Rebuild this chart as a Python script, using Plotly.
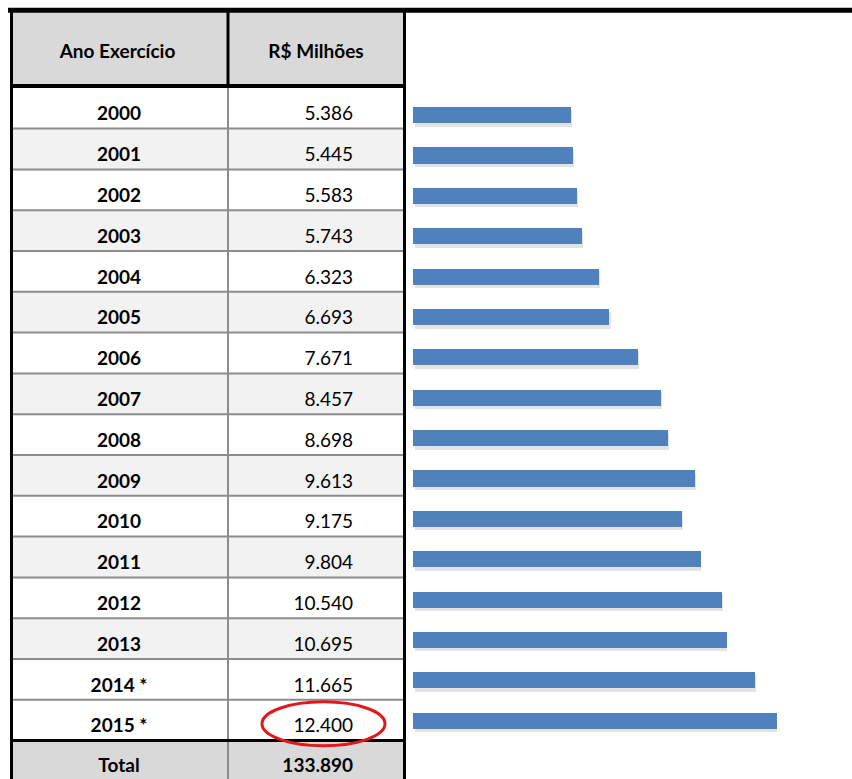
import plotly.graph_objects as go

# ---------------- data ----------------
years = ["2000", "2001", "2002", "2003", "2004", "2005", "2006", "2007",
         "2008", "2009", "2010", "2011", "2012", "2013", "2014 *", "2015 *"]
values = [5386, 5445, 5583, 5743, 6323, 6693, 7671, 8457,
          8698, 9613, 9175, 9804, 10540, 10695, 11665, 12400]
header_labels = ["Ano Exercício", "R$ Milhões"]
total_label = "Total"
total_value = 133890
highlight_year = "2015 *"

def fmt(v):
    return f"{v:,}".replace(",", ".")

# ---------------- layout constants (pixels) ----------------
W, H = 852, 779
TX0, TX1, TX2 = 12, 227, 405          # table column edges
HEAD_TOP, HEAD_BOT = 12, 86
ROW_TOP, ROW_H = 87.8, 40.8
TEXT_DY = 7.5                           # text sits a bit below row centre
NUM_RIGHT = 353
COL1_C = 119

BAR_X0 = 413
BAR_SCALE = 0.02935                     # px per unit
BAR_C0, BAR_STEP = 115.0, 40.37
xmax = (W - BAR_X0) / BAR_SCALE

n = len(years)

def py(p):  # pixel y -> paper
    return 1 - p / H

def px(p):
    return p / W

bar_top = BAR_C0 - BAR_STEP / 2
bar_bot = BAR_C0 + (n - 1) * BAR_STEP + BAR_STEP / 2

font = "Lato, 'Open Sans', sans-serif"
FS = 19

fig = go.Figure()

# soft shadow of bars
fig.add_trace(go.Bar(
    x=values, y=years, orientation="h", width=0.42,
    marker=dict(color="rgba(80,80,80,0.16)", line=dict(width=0)),
    xaxis="x", yaxis="y", hoverinfo="skip", showlegend=False))

# table text
row_c = [ROW_TOP + ROW_H * (i + 0.5) + TEXT_DY for i in range(n)]
fig.add_trace(go.Scatter(
    x=[COL1_C] * n, y=row_c, text=years, mode="text",
    textfont=dict(family=font, size=FS, color="black", weight="bold"),
    textposition="middle center", xaxis="x2", yaxis="y2",
    hoverinfo="skip", showlegend=False))
fig.add_trace(go.Scatter(
    x=[NUM_RIGHT] * n, y=row_c, text=[fmt(v) for v in values], mode="text",
    textfont=dict(family=font, size=FS, color="black"),
    textposition="middle left", xaxis="x2", yaxis="y2",
    hoverinfo="skip", showlegend=False))
# header
fig.add_trace(go.Scatter(
    x=[(TX0 + TX1) / 2 - 2, (TX1 + TX2) / 2], y=[(HEAD_TOP + HEAD_BOT) / 2 + 4] * 2,
    text=header_labels, mode="text",
    textfont=dict(family=font, size=FS, color="black", weight="bold"),
    textposition="middle center", xaxis="x2", yaxis="y2",
    hoverinfo="skip", showlegend=False))
# total row
tot_top = ROW_TOP + ROW_H * n
tot_c = tot_top + ROW_H / 2 + TEXT_DY - 1
fig.add_trace(go.Scatter(
    x=[COL1_C], y=[tot_c], text=[total_label], mode="text",
    textfont=dict(family=font, size=FS, color="black", weight="bold"),
    textposition="middle center", xaxis="x2", yaxis="y2",
    hoverinfo="skip", showlegend=False))
fig.add_trace(go.Scatter(
    x=[NUM_RIGHT], y=[tot_c], text=[fmt(total_value)], mode="text",
    textfont=dict(family=font, size=FS, color="black", weight="bold"),
    textposition="middle left", xaxis="x2", yaxis="y2",
    hoverinfo="skip", showlegend=False))

# bars
fig.add_trace(go.Bar(
    x=values, y=years, orientation="h", width=0.40,
    marker=dict(color="#4f81bd", line=dict(width=0)),
    xaxis="x3", yaxis="y3", hoverinfo="x+y", showlegend=False))

shapes = []
# header background
shapes.append(dict(type="rect", xref="x2", yref="y2", x0=TX0, x1=TX2,
                   y0=HEAD_TOP, y1=HEAD_BOT, fillcolor="#d9d9d9",
                   line=dict(width=0), layer="below"))
# alternating row backgrounds (last row stays white)
for i in range(n):
    y0 = ROW_TOP + ROW_H * i
    shaded = (i % 2 == 1) and (i < n - 1)
    shapes.append(dict(type="rect", xref="x2", yref="y2", x0=TX0, x1=TX2,
                       y0=y0, y1=y0 + ROW_H,
                       fillcolor="#f2f2f2" if shaded else "white",
                       line=dict(width=0), layer="below"))
# total background
shapes.append(dict(type="rect", xref="x2", yref="y2", x0=TX0, x1=TX2,
                   y0=tot_top, y1=H + 5, fillcolor="#d9d9d9",
                   line=dict(width=0), layer="below"))
# gray row separators
for i in range(1, n):
    y = ROW_TOP + ROW_H * i
    shapes.append(dict(type="line", xref="x2", yref="y2", x0=TX0, x1=TX2,
                       y0=y, y1=y, line=dict(color="#8c8c8c", width=2), layer="above"))
# gray column divider (data + total)
shapes.append(dict(type="line", xref="x2", yref="y2", x0=TX1 + 1, x1=TX1 + 1,
                   y0=HEAD_BOT, y1=H + 5, line=dict(color="#8c8c8c", width=2), layer="above"))
# black column divider in header
shapes.append(dict(type="line", xref="x2", yref="y2", x0=TX1 + 1, x1=TX1 + 1,
                   y0=HEAD_TOP, y1=HEAD_BOT, line=dict(color="black", width=3), layer="above"))
# header bottom / data bottom thick lines
shapes.append(dict(type="line", xref="x2", yref="y2", x0=TX0, x1=TX2,
                   y0=HEAD_BOT, y1=HEAD_BOT, line=dict(color="black", width=4), layer="above"))
shapes.append(dict(type="line", xref="x2", yref="y2", x0=TX0, x1=TX2,
                   y0=tot_top, y1=tot_top, line=dict(color="black", width=3), layer="above"))
# outer borders
shapes.append(dict(type="line", xref="x2", yref="y2", x0=TX0 - 0.5, x1=TX0 - 0.5,
                   y0=9, y1=H + 5, line=dict(color="black", width=3), layer="above"))
shapes.append(dict(type="line", xref="x2", yref="y2", x0=TX2 - 0.5, x1=TX2 - 0.5,
                   y0=9, y1=H + 5, line=dict(color="black", width=3), layer="above"))
shapes.append(dict(type="line", xref="x2", yref="y2", x0=8, x1=W + 5,
                   y0=10.3, y1=10.3, line=dict(color="black", width=5), layer="above"))
# red ellipse around highlighted value
hi = years.index(highlight_year)
hy0 = ROW_TOP + ROW_H * hi
shapes.append(dict(type="circle", xref="x2", yref="y2", x0=262, x1=385,
                   y0=hy0 + 2, y1=hy0 + 46, line=dict(color="#e3161c", width=3),
                   layer="above"))

hidden = dict(visible=False, showgrid=False, zeroline=False, fixedrange=True)

fig.update_layout(
    width=W, height=H,
    margin=dict(l=0, r=0, t=0, b=0),
    paper_bgcolor="white", plot_bgcolor="rgba(0,0,0,0)",
    showlegend=False, bargap=0,
    shapes=shapes,
    # shadow axes (shifted slightly right/down)
    xaxis=dict(domain=[px(BAR_X0 + 2), 1], range=[0, xmax], anchor="y", **hidden),
    yaxis=dict(domain=[py(bar_bot + 3), py(bar_top + 3)], type="category",
               categoryorder="array", categoryarray=years,
               range=[n - 0.5, -0.5], anchor="x", **hidden),
    # table axes in pixel units
    xaxis2=dict(domain=[0, 1], range=[0, W], anchor="y2", **hidden),
    yaxis2=dict(domain=[0, 1], range=[H, 0], anchor="x2", **hidden),
    # bar axes
    xaxis3=dict(domain=[px(BAR_X0), 1], range=[0, xmax], anchor="y3", **hidden),
    yaxis3=dict(domain=[py(bar_bot), py(bar_top)], type="category",
                categoryorder="array", categoryarray=years,
                range=[n - 0.5, -0.5], anchor="x3", **hidden),
)

fig.write_html(
    "out.html",
    config={"displayModeBar": False},
    post_script="document.body.style.margin='0';document.body.style.overflow='hidden';",
)
